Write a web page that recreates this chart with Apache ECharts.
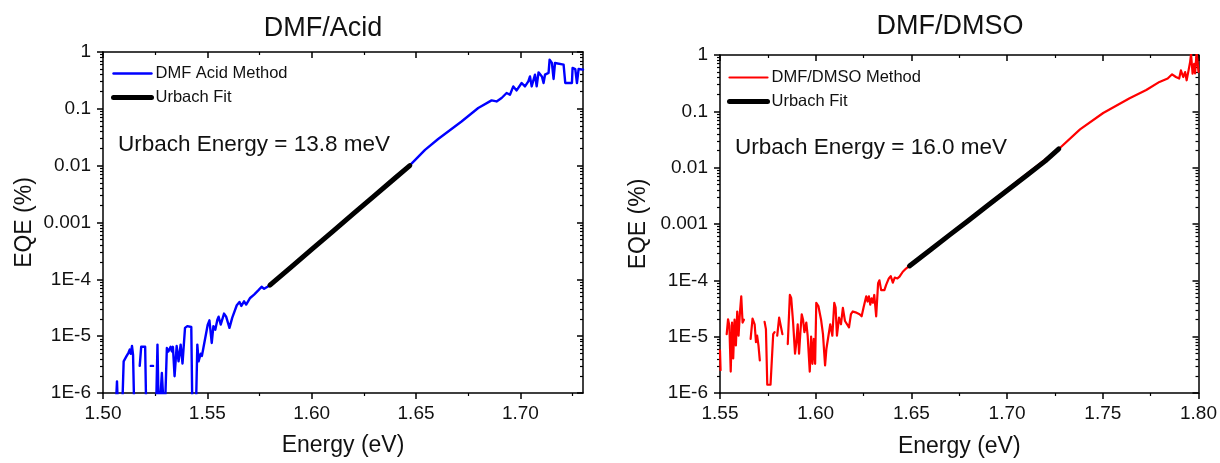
<!DOCTYPE html>
<html><head><meta charset="utf-8">
<script src="https://cdn.jsdelivr.net/npm/echarts@6/dist/echarts.min.js"></script>
<style>html,body{margin:0;padding:0;background:#fff}#c{width:1220px;height:463px}</style>
</head><body><div id="c"></div>
<script>
// ---------------- DATA ----------------
const titles = ['DMF/Acid', 'DMF/DMSO'];
const seriesNames = ['DMF Acid Method', 'DMF/DMSO Method', 'Urbach Fit'];
const notes = ['Urbach Energy = 13.8 meV', 'Urbach Energy = 16.0 meV'];
const xName = 'Energy (eV)';
const yName = 'EQE (%)';

const yMajor = [1e-6, 1e-5, 1e-4, 1e-3, 1e-2, 1e-1, 1];
const yTickLabels = ['1E-6', '1E-5', '1E-4', '0.001', '0.01', '0.1', '1'];
const yMinor = [2e-6,3e-6,4e-6,5e-6,6e-6,7e-6,8e-6,9e-6,
  2e-5,3e-5,4e-5,5e-5,6e-5,7e-5,8e-5,9e-5,
  2e-4,3e-4,4e-4,5e-4,6e-4,7e-4,8e-4,9e-4,
  2e-3,3e-3,4e-3,5e-3,6e-3,7e-3,8e-3,9e-3,
  2e-2,3e-2,4e-2,5e-2,6e-2,7e-2,8e-2,9e-2,
  0.2,0.3,0.4,0.5,0.6,0.7,0.8,0.9];

const xMajorA = [1.50, 1.55, 1.60, 1.65, 1.70];
const xMinorA = [1.525, 1.575, 1.625, 1.675, 1.725];
const xRangeA = [1.50, 1.73];
const xMajorB = [1.55, 1.60, 1.65, 1.70, 1.75, 1.80];
const xMinorB = [1.575, 1.625, 1.675, 1.725, 1.775];
const xRangeB = [1.55, 1.80];
const yRange = [1e-6, 1];

// DMF/Acid measured EQE (null = gap, values < 1E-6 fall below the plotted range)
const acidE = [1.5058,1.5067,1.5074,1.5090,1.5099,1.5112,1.5122,1.5128,1.5133,1.5139,1.5144,1.5151,1.5165,
  1.5176,1.5183,1.5202,1.5208,1.5220,1.5229,1.5240,1.5247,1.5253,1.5261,1.5268,1.5277,1.5282,1.5290,1.5295,
  1.5301,1.5306,1.5314,1.5324,1.5330,1.5335,1.5343,1.5353,1.5362,1.5372,1.5381,1.5393,1.5404,1.5423,1.5429,
  1.5444,1.5452,1.5458,1.5468,1.5474,1.5481,1.5490,1.5502,1.5510,1.5521,1.5529,1.5538,1.5548,1.5554,1.5564,
  1.5580,1.5590,1.5606,1.5619,1.5641,1.5654,1.5663,1.5676,1.5686,1.5705,1.5724,1.5744,1.5760,1.5772,1.5788,
  1.5802,1.6469,1.6543,1.6606,1.6718,1.6798,1.6862,1.6886,1.6910,1.6934,1.6950,1.6966,1.6982,1.7006,1.7022,
  1.7038,1.7046,1.7054,1.7070,1.7078,1.7087,1.7103,1.7111,1.7118,1.7135,1.7140,1.7151,1.7159,1.7166,1.7207,
  1.7215,1.7247,1.7250,1.7263,1.7271,1.7279,1.7300];
const acidEQE = [3e-7,1.6e-6,3e-7,3e-7,3.6e-6,4.4e-6,5.1e-6,5.8e-6,4.9e-6,6.7e-6,4.7e-6,3e-7,null,
  3.0e-6,6.5e-6,6.5e-6,3e-7,null,3.0e-6,3.0e-6,null,3e-7,7.1e-6,3e-7,3e-7,2.25e-6,2.25e-6,3e-7,
  3e-7,6.2e-6,5.4e-6,6.5e-6,5.4e-6,6.5e-6,1.97e-6,6.7e-6,3.6e-6,7.1e-6,3.3e-6,1.4e-5,1.5e-5,1.45e-5,3e-7,
  3e-7,7.1e-6,3.6e-6,4.9e-6,4.5e-6,6.2e-6,6.7e-6,1.6e-5,1.9e-5,7.6e-6,1.5e-5,1.3e-5,1.95e-5,2.2e-5,1.6e-5,
  2.5e-5,2.2e-5,1.4e-5,2.1e-5,3.5e-5,4.0e-5,3.4e-5,4.1e-5,3.6e-5,4.7e-5,5.4e-5,6.4e-5,7.4e-5,6.8e-5,7.4e-5,
  8.0e-5,1.0e-2,1.9e-2,2.94e-2,6.0e-2,0.1035,0.141,0.135,0.155,0.190,0.177,0.248,0.211,0.285,0.248,
  0.304,0.372,0.248,0.399,0.248,0.438,0.372,0.285,0.399,0.428,0.733,0.641,0.335,0.641,0.598,
  0.285,0.285,0.524,0.502,0.285,0.502,0.489];
const acidFitE = [1.580,1.590,1.600,1.610,1.620,1.630,1.640,1.647];
const acidFitEQE = [7.9e-5,1.63e-4,3.36e-4,6.9e-4,1.43e-3,2.94e-3,6.07e-3,1.0e-2];

// DMF/DMSO measured EQE
const dmsoE = [1.5500,1.5503,1.5520,1.5535,1.5542,1.5549,1.5556,1.5563,1.5569,1.5576,1.5583,1.5590,1.5597,
  1.5604,1.5611,1.5618,1.5625,1.5640,1.5660,1.5670,1.5681,1.5688,1.5694,1.5701,1.5708,1.5720,1.5733,1.5740,
  1.5747,1.5764,1.5778,1.5785,1.5792,1.5799,1.5809,1.5819,1.5826,1.5840,1.5854,1.5865,1.5872,1.5882,1.5892,
  1.5899,1.5906,1.5913,1.5920,1.5927,1.5934,1.5941,1.5951,1.5958,1.5969,1.5976,1.5983,1.5990,1.5997,1.6003,
  1.6014,1.6028,1.6038,1.6049,1.6056,1.6066,1.6076,1.6087,1.6097,1.6104,1.6111,1.6122,1.6132,1.6142,1.6153,
  1.6163,1.6174,1.6184,1.6194,1.6208,1.6218,1.6229,1.6240,1.6250,1.6264,1.6271,1.6278,1.6285,1.6292,1.6299,
  1.6306,1.6316,1.6326,1.6333,1.6342,1.6351,1.6359,1.6368,1.6382,1.6392,1.6403,1.6413,1.6427,1.6438,1.6455,
  1.6472,1.6488,1.7270,1.7381,1.7502,1.7640,1.7727,1.7796,1.7839,1.7862,1.7882,1.7899,1.7908,1.7920,1.7930,
  1.7938,1.7948,1.7956,1.7961,1.7969,1.7977,1.7982,1.7990,1.8000];
const dmsoEQE = [5.7e-6,2.55e-6,null,1.11e-5,2.03e-5,1.56e-5,2.4e-6,1.78e-5,4.1e-6,2.0e-5,7.0e-6,2.8e-5,1.04e-5,
  2.65e-5,5.2e-5,1.78e-5,2.0e-5,null,9.1e-6,2.1e-5,1.66e-5,8.0e-6,1.04e-5,7.0e-6,3.8e-6,null,1.83e-5,1.36e-5,
  1.4e-6,1.4e-6,1.11e-5,1.2e-5,null,1.04e-5,2.17e-5,2.0e-5,1.11e-5,null,7.4e-6,5.5e-5,4.85e-5,1.78e-5,5.0e-6,
  8.0e-6,1.66e-5,5.0e-6,1.2e-5,2.5e-5,2.0e-5,1.2e-5,1.78e-5,1.04e-5,2.4e-6,1.0e-5,3.3e-6,9.1e-6,3.3e-6,4.0e-5,
  3.5e-5,2.0e-5,1.11e-5,3.1e-6,6.1e-6,6.5e-6,1.66e-5,1.04e-5,4.0e-5,3.3e-5,1.04e-5,2.17e-5,1.66e-5,3.25e-5,1.9e-5,
  2.0e-5,1.46e-5,2.5e-5,2.8e-5,2.7e-5,2.8e-5,2.5e-5,2.3e-5,3.3e-5,5.2e-5,4.2e-5,5.2e-5,3.7e-5,4.8e-5,4.0e-5,
  5.5e-5,2.3e-5,8.9e-5,1.0e-4,6.7e-5,6.9e-5,6.7e-5,8.3e-5,1.08e-4,1.19e-4,9.1e-5,1.12e-4,1.08e-4,1.16e-4,1.42e-4,
  1.62e-4,1.79e-4,2.15e-2,0.0479,0.0935,0.171,0.239,0.333,0.382,0.454,0.407,0.382,0.533,0.407,0.498,
  0.356,0.533,0.743,1.04,0.467,0.697,0.47,1.1,0.5];
const dmsoFitE = [1.649,1.660,1.670,1.680,1.690,1.700,1.710,1.720,1.727];
const dmsoFitEQE = [1.80e-4,3.50e-4,6.41e-4,1.17e-3,2.15e-3,3.94e-3,7.21e-3,1.32e-2,2.15e-2];

// ---------------- CHART ----------------
const FONT = '"Liberation Sans", Arial, sans-serif';
const pair = (xs, ys) => xs.map((x, i) => [x, ys[i]]);
const yLabel = v => {
  let best = 0, bd = Infinity;
  yMajor.forEach((m, i) => { const d = Math.abs(Math.log10(v) - Math.log10(m)); if (d < bd) { bd = d; best = i; } });
  return yTickLabels[best];
};

const grids = [
  { left: 103, top: 52, width: 480, height: 341 },
  { left: 720, top: 55, width: 480, height: 343 }
];

function xAxes(gi, range, major, minor, nameGap) {
  const base = { type: 'value', gridIndex: gi, min: range[0], max: range[1], splitLine: { show: false } };
  const line = { show: true, lineStyle: { color: '#000', width: 1.5 } };
  return [
    Object.assign({}, base, { position: 'bottom', axisLine: line,
      axisTick: { show: true, inside: false, length: 6, customValues: major, lineStyle: { color: '#000', width: 1.5 } },
      axisLabel: { show: true, customValues: major, margin: 11, fontSize: 19, color: '#111', fontFamily: FONT,
        formatter: v => v.toFixed(2) },
      name: xName, nameLocation: 'middle', nameGap: nameGap,
      nameTextStyle: { fontSize: 23, color: '#111', fontFamily: FONT } }),
    Object.assign({}, base, { position: 'bottom', axisLine: { show: false },
      axisTick: { show: true, inside: false, length: 3, customValues: minor, lineStyle: { color: '#000', width: 1.2 } },
      axisLabel: { show: false } }),
    Object.assign({}, base, { position: 'top', axisLine: line,
      axisTick: { show: true, inside: true, length: 6, customValues: major, lineStyle: { color: '#000', width: 1.5 } },
      axisLabel: { show: false } }),
    Object.assign({}, base, { position: 'top', axisLine: { show: false },
      axisTick: { show: true, inside: true, length: 3, customValues: minor, lineStyle: { color: '#000', width: 1.2 } },
      axisLabel: { show: false } })
  ];
}
function yAxes(gi, nameGap) {
  const base = { type: 'log', logBase: 10, gridIndex: gi, min: yRange[0], max: yRange[1], splitLine: { show: false } };
  const line = { show: true, lineStyle: { color: '#000', width: 1.5 } };
  return [
    Object.assign({}, base, { position: 'left', axisLine: line,
      axisTick: { show: true, inside: false, length: 6, customValues: yMajor, lineStyle: { color: '#000', width: 1.5 } },
      axisLabel: { show: true, customValues: yMajor, margin: 12, fontSize: 19, color: '#111', fontFamily: FONT, formatter: yLabel },
      name: yName, nameLocation: 'middle', nameGap: nameGap, nameRotate: 90,
      nameTextStyle: { fontSize: 23, color: '#111', fontFamily: FONT } }),
    Object.assign({}, base, { position: 'left', axisLine: { show: false },
      axisTick: { show: true, inside: false, length: 3, customValues: yMinor, lineStyle: { color: '#000', width: 1.2 } },
      axisLabel: { show: false } }),
    Object.assign({}, base, { position: 'right', axisLine: line,
      axisTick: { show: true, inside: true, length: 6, customValues: yMajor, lineStyle: { color: '#000', width: 1.5 } },
      axisLabel: { show: false } }),
    Object.assign({}, base, { position: 'right', axisLine: { show: false },
      axisTick: { show: true, inside: true, length: 3, customValues: yMinor, lineStyle: { color: '#000', width: 1.2 } },
      axisLabel: { show: false } })
  ];
}

const lineSeries = (name, data, xi, yi, color, width, z) => ({
  type: 'line', name, data, xAxisIndex: xi, yAxisIndex: yi, symbol: 'none', showSymbol: false,
  connectNulls: false, clip: true, animation: false, z,
  lineStyle: { color, width, join: 'round', cap: 'round' }, itemStyle: { color }
});

const legendBase = {
  orient: 'vertical', padding: 0, itemWidth: 38, itemHeight: 14, itemGap: 7, selectedMode: false,
  lineStyle: { width: 'inherit' }, itemStyle: { opacity: 0 },
  textStyle: { fontSize: 16.5, color: '#111', fontFamily: FONT, padding: [0, 0, 0, -1] }
};

const option = {
  backgroundColor: '#fff',
  animation: false,
  title: [
    { text: titles[0], left: 323, top: 15, textAlign: 'center', padding: 0,
      textStyle: { fontSize: 27, fontWeight: 'normal', color: '#111', fontFamily: FONT } },
    { text: titles[1], left: 950, top: 13, textAlign: 'center', padding: 0,
      textStyle: { fontSize: 27, fontWeight: 'normal', color: '#111', fontFamily: FONT } },
    { text: notes[0], left: 118, top: 133, padding: 0,
      textStyle: { fontSize: 22.5, fontWeight: 'normal', color: '#111', fontFamily: FONT } },
    { text: notes[1], left: 735, top: 136, padding: 0,
      textStyle: { fontSize: 22.5, fontWeight: 'normal', color: '#111', fontFamily: FONT } }
  ],
  legend: [
    Object.assign({}, legendBase, { data: [seriesNames[0], seriesNames[2]], left: 111, top: 65 }),
    Object.assign({}, legendBase, { data: [seriesNames[1], seriesNames[2]], left: 727, top: 69 })
  ],
  grid: grids,
  xAxis: [].concat(xAxes(0, xRangeA, xMajorA, xMinorA, 41), xAxes(1, xRangeB, xMajorB, xMinorB, 42)),
  yAxis: [].concat(yAxes(0, 67), yAxes(1, 70)),
  series: [
    lineSeries(seriesNames[0], pair(acidE, acidEQE), 0, 0, '#0000ff', 2.4, 2),
    lineSeries(seriesNames[2], pair(acidFitE, acidFitEQE), 0, 0, '#000000', 5, 3),
    lineSeries(seriesNames[1], pair(dmsoE, dmsoEQE), 4, 4, '#ff0000', 2.2, 2),
    lineSeries(seriesNames[2], pair(dmsoFitE, dmsoFitEQE), 4, 4, '#000000', 5, 3)
  ]
};
const chart = echarts.init(document.getElementById('c'), null, { renderer: 'canvas' });
chart.setOption(option);
</script>
</body></html>
